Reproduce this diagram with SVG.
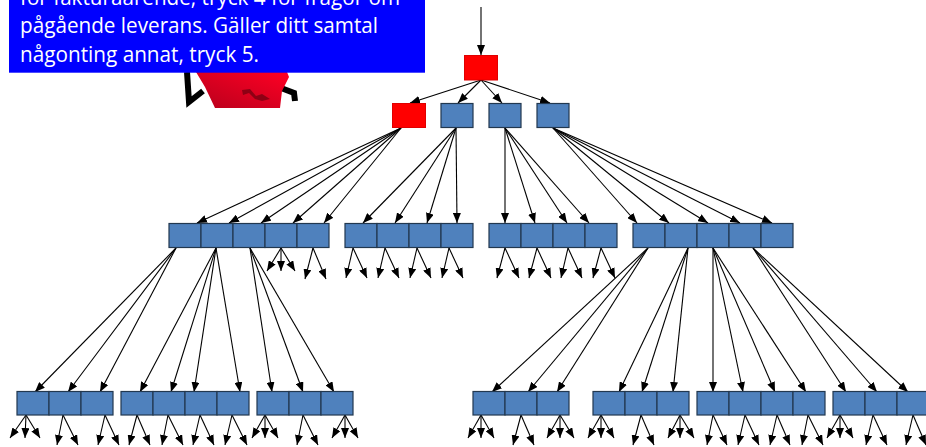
<svg xmlns="http://www.w3.org/2000/svg" width="926" height="447" viewBox="0 0 926 447">
  <style>
    .bx { fill: #4f81bd; stroke: #22384f; stroke-width: 1.2; }
    .rd { fill: #ff0000; stroke: #e00000; stroke-width: 1; }
    .c line { stroke: #000; stroke-width: 1.1; marker-end: url(#ah); }
    .tx { fill: #fff; font-family: "Open Sans", "Noto Sans", sans-serif; font-size: 22px; }
  </style>
  <defs>
    <marker id="ah" markerUnits="userSpaceOnUse" markerWidth="10" markerHeight="8" refX="10" refY="4" orient="auto">
      <path d="M0,0 L10,4 L0,8 z" fill="#000"/>
    </marker>
    <linearGradient id="shirt" x1="0" y1="1" x2="1" y2="0">
      <stop offset="0" stop-color="#b8001c"/>
      <stop offset="1" stop-color="#ff0024"/>
    </linearGradient>
  </defs>
  <rect width="926" height="447" fill="#fff"/>

  <!-- caller figure behind the speech box -->
  <g id="figure">
    <polyline points="187,72 189,102 203,91" fill="none" stroke="#000" stroke-width="6" stroke-linejoin="miter"/>
    <polyline points="281,88 294,93 295,101" fill="none" stroke="#000" stroke-width="6"/>
    <path d="M196,72 L205,87 L215,108 L280,108 L282,91 L289,77 L287,72 Z" fill="url(#shirt)"/>
    <path d="M242,90 L250,89 L256,96 L262,94 L270,99 L262,101 L255,99 L249,93 L243,95 Z" fill="#8e0014"/>
  </g>

  <!-- speech box -->
  <g id="message">
    <rect x="9" y="-10" width="416" height="82.7" fill="#0000ff"/>
    <text class="tx" x="20" y="5" textLength="380" lengthAdjust="spacingAndGlyphs">för fakturaärende, tryck 4 för frågor om</text>
    <text class="tx" x="20" y="33.3" textLength="358" lengthAdjust="spacingAndGlyphs">pågående leverans. Gäller ditt samtal</text>
    <text class="tx" x="20" y="61.7" textLength="239" lengthAdjust="spacingAndGlyphs">någonting annat, tryck 5.</text>
  </g>

  <!-- connectors -->
  <g class="c" id="connectors">
    <line x1="481" y1="7" x2="481" y2="55"/>
    <!-- root to level 1 -->
    <line x1="481" y1="80" x2="410" y2="103"/>
    <line x1="481" y1="80" x2="458" y2="103"/>
    <line x1="481" y1="80" x2="502" y2="103"/>
    <line x1="481" y1="80" x2="550" y2="103"/>
    <!-- level 1 to level 2 -->
    <line x1="401" y1="128" x2="197" y2="223"/>
    <line x1="401" y1="128" x2="229" y2="223"/>
    <line x1="401" y1="128" x2="261" y2="223"/>
    <line x1="401" y1="128" x2="293" y2="223"/>
    <line x1="401" y1="128" x2="324" y2="223"/>
    <line x1="456" y1="128" x2="363" y2="223"/>
    <line x1="456" y1="128" x2="395" y2="223"/>
    <line x1="456" y1="128" x2="427" y2="223"/>
    <line x1="456" y1="128" x2="457" y2="223"/>
    <line x1="505" y1="128" x2="505" y2="223"/>
    <line x1="505" y1="128" x2="535" y2="223"/>
    <line x1="505" y1="128" x2="567" y2="223"/>
    <line x1="505" y1="128" x2="589" y2="223"/>
    <line x1="553" y1="128" x2="637" y2="223"/>
    <line x1="553" y1="128" x2="669" y2="223"/>
    <line x1="553" y1="128" x2="708" y2="223"/>
    <line x1="553" y1="128" x2="740" y2="223"/>
    <line x1="553" y1="128" x2="772" y2="223"/>
    <!-- level 2 to level 3 -->
    <line x1="176" y1="248" x2="35" y2="392"/>
    <line x1="176" y1="248" x2="68" y2="392"/>
    <line x1="176" y1="248" x2="100" y2="392"/>
    <line x1="216" y1="248" x2="140" y2="392"/>
    <line x1="216" y1="248" x2="171" y2="392"/>
    <line x1="216" y1="248" x2="194" y2="392"/>
    <line x1="216" y1="248" x2="240" y2="392"/>
    <line x1="250" y1="248" x2="272" y2="392"/>
    <line x1="250" y1="248" x2="303" y2="392"/>
    <line x1="250" y1="248" x2="334" y2="392"/>
    <line x1="648" y1="248" x2="492" y2="392"/>
    <line x1="648" y1="248" x2="528" y2="392"/>
    <line x1="648" y1="248" x2="557" y2="392"/>
    <line x1="688" y1="248" x2="619" y2="392"/>
    <line x1="688" y1="248" x2="642" y2="392"/>
    <line x1="688" y1="248" x2="673" y2="392"/>
    <line x1="713" y1="248" x2="713" y2="392"/>
    <line x1="713" y1="248" x2="743" y2="392"/>
    <line x1="713" y1="248" x2="775" y2="392"/>
    <line x1="713" y1="248" x2="806" y2="392"/>
    <line x1="753" y1="248" x2="846" y2="392"/>
    <line x1="753" y1="248" x2="877" y2="392"/>
    <line x1="753" y1="248" x2="908" y2="392"/>
    <!-- short stubs under level 2 -->
    <line x1="281" y1="248" x2="267" y2="271"/>
    <line x1="281" y1="248" x2="281" y2="271"/>
    <line x1="281" y1="248" x2="295" y2="271"/>
    <line x1="313" y1="248" x2="305" y2="279"/>
    <line x1="313" y1="248" x2="326" y2="279"/>
    <line x1="353" y1="248" x2="346" y2="278"/>
    <line x1="353" y1="248" x2="367" y2="278"/>
    <line x1="385" y1="248" x2="378" y2="278"/>
    <line x1="385" y1="248" x2="399" y2="278"/>
    <line x1="417" y1="248" x2="410" y2="278"/>
    <line x1="417" y1="248" x2="431" y2="278"/>
    <line x1="449" y1="248" x2="442" y2="278"/>
    <line x1="449" y1="248" x2="463" y2="278"/>
    <line x1="505" y1="248" x2="497" y2="278"/>
    <line x1="505" y1="248" x2="519" y2="278"/>
    <line x1="537" y1="248" x2="529" y2="278"/>
    <line x1="537" y1="248" x2="551" y2="278"/>
    <line x1="568" y1="248" x2="561" y2="278"/>
    <line x1="568" y1="248" x2="582" y2="278"/>
    <line x1="601" y1="248" x2="593" y2="278"/>
    <line x1="601" y1="248" x2="615" y2="278"/>
    <!-- short stubs under level 3 -->
    <line x1="26" y1="415" x2="10" y2="438"/>
    <line x1="26" y1="415" x2="25" y2="438"/>
    <line x1="26" y1="415" x2="40" y2="438"/>
    <line x1="63" y1="415" x2="57" y2="445"/>
    <line x1="63" y1="415" x2="78" y2="445"/>
    <line x1="105" y1="415" x2="98" y2="445"/>
    <line x1="105" y1="415" x2="119" y2="445"/>
    <line x1="137" y1="415" x2="129" y2="445"/>
    <line x1="137" y1="415" x2="150" y2="445"/>
    <line x1="168" y1="415" x2="162" y2="445"/>
    <line x1="168" y1="415" x2="183" y2="445"/>
    <line x1="200" y1="415" x2="193" y2="445"/>
    <line x1="200" y1="415" x2="214" y2="445"/>
    <line x1="232" y1="415" x2="225" y2="445"/>
    <line x1="232" y1="415" x2="247" y2="445"/>
    <line x1="265" y1="415" x2="252" y2="438"/>
    <line x1="265" y1="415" x2="265" y2="438"/>
    <line x1="265" y1="415" x2="278" y2="438"/>
    <line x1="303" y1="415" x2="297" y2="445"/>
    <line x1="303" y1="415" x2="318" y2="445"/>
    <line x1="345" y1="415" x2="332" y2="438"/>
    <line x1="345" y1="415" x2="345" y2="438"/>
    <line x1="345" y1="415" x2="358" y2="438"/>
    <line x1="481" y1="415" x2="468" y2="438"/>
    <line x1="481" y1="415" x2="481" y2="438"/>
    <line x1="481" y1="415" x2="494" y2="438"/>
    <line x1="521" y1="415" x2="513" y2="445"/>
    <line x1="521" y1="415" x2="534" y2="445"/>
    <line x1="560" y1="415" x2="547" y2="438"/>
    <line x1="560" y1="415" x2="560" y2="438"/>
    <line x1="560" y1="415" x2="574" y2="438"/>
    <line x1="601" y1="415" x2="588" y2="438"/>
    <line x1="601" y1="415" x2="601" y2="438"/>
    <line x1="601" y1="415" x2="614" y2="438"/>
    <line x1="641" y1="415" x2="633" y2="445"/>
    <line x1="641" y1="415" x2="654" y2="445"/>
    <line x1="680" y1="415" x2="668" y2="438"/>
    <line x1="680" y1="415" x2="680" y2="438"/>
    <line x1="680" y1="415" x2="694" y2="438"/>
    <line x1="713" y1="415" x2="707" y2="445"/>
    <line x1="713" y1="415" x2="727" y2="445"/>
    <line x1="745" y1="415" x2="738" y2="445"/>
    <line x1="745" y1="415" x2="759" y2="445"/>
    <line x1="777" y1="415" x2="770" y2="445"/>
    <line x1="777" y1="415" x2="790" y2="445"/>
    <line x1="808" y1="415" x2="802" y2="445"/>
    <line x1="808" y1="415" x2="823" y2="445"/>
    <line x1="840" y1="415" x2="827" y2="438"/>
    <line x1="840" y1="415" x2="840" y2="438"/>
    <line x1="840" y1="415" x2="853" y2="438"/>
    <line x1="873" y1="415" x2="866" y2="445"/>
    <line x1="873" y1="415" x2="887" y2="445"/>
    <line x1="913" y1="415" x2="906" y2="445"/>
    <line x1="913" y1="415" x2="926" y2="445"/>
  </g>

  <!-- level 0 -->
  <g id="root"><rect class="rd" x="464.5" y="55.5" width="33" height="24.5"/></g>

  <!-- level 1 -->
  <g id="n1a"><rect class="rd" x="392.5" y="103.5" width="33" height="24"/></g>
  <g id="n1b"><rect class="bx" x="441" y="103.5" width="32" height="24"/></g>
  <g id="n1c"><rect class="bx" x="489" y="103.5" width="32" height="24"/></g>
  <g id="n1d"><rect class="bx" x="537" y="103.5" width="32" height="24"/></g>

  <!-- level 2 -->
  <g id="n2a1"><rect class="bx" x="169" y="223.5" width="32" height="24"/></g>
  <g id="n2a2"><rect class="bx" x="201" y="223.5" width="32" height="24"/></g>
  <g id="n2a3"><rect class="bx" x="233" y="223.5" width="32" height="24"/></g>
  <g id="n2a4"><rect class="bx" x="265" y="223.5" width="32" height="24"/></g>
  <g id="n2a5"><rect class="bx" x="297" y="223.5" width="32" height="24"/></g>
  <g id="n2b1"><rect class="bx" x="345" y="223.5" width="32" height="24"/></g>
  <g id="n2b2"><rect class="bx" x="377" y="223.5" width="32" height="24"/></g>
  <g id="n2b3"><rect class="bx" x="409" y="223.5" width="32" height="24"/></g>
  <g id="n2b4"><rect class="bx" x="441" y="223.5" width="32" height="24"/></g>
  <g id="n2c1"><rect class="bx" x="489" y="223.5" width="32" height="24"/></g>
  <g id="n2c2"><rect class="bx" x="521" y="223.5" width="32" height="24"/></g>
  <g id="n2c3"><rect class="bx" x="553" y="223.5" width="32" height="24"/></g>
  <g id="n2c4"><rect class="bx" x="585" y="223.5" width="32" height="24"/></g>
  <g id="n2d1"><rect class="bx" x="633" y="223.5" width="32" height="24"/></g>
  <g id="n2d2"><rect class="bx" x="665" y="223.5" width="32" height="24"/></g>
  <g id="n2d3"><rect class="bx" x="697" y="223.5" width="32" height="24"/></g>
  <g id="n2d4"><rect class="bx" x="729" y="223.5" width="32" height="24"/></g>
  <g id="n2d5"><rect class="bx" x="761" y="223.5" width="32" height="24"/></g>

  <!-- level 3 -->
  <g id="n3e1"><rect class="bx" x="17" y="391.5" width="32" height="23.5"/></g>
  <g id="n3e2"><rect class="bx" x="49" y="391.5" width="32" height="23.5"/></g>
  <g id="n3e3"><rect class="bx" x="81" y="391.5" width="32" height="23.5"/></g>
  <g id="n3f1"><rect class="bx" x="121" y="391.5" width="32" height="23.5"/></g>
  <g id="n3f2"><rect class="bx" x="153" y="391.5" width="32" height="23.5"/></g>
  <g id="n3f3"><rect class="bx" x="185" y="391.5" width="32" height="23.5"/></g>
  <g id="n3f4"><rect class="bx" x="217" y="391.5" width="32" height="23.5"/></g>
  <g id="n3g1"><rect class="bx" x="257" y="391.5" width="32" height="23.5"/></g>
  <g id="n3g2"><rect class="bx" x="289" y="391.5" width="32" height="23.5"/></g>
  <g id="n3g3"><rect class="bx" x="321" y="391.5" width="32" height="23.5"/></g>
  <g id="n3h1"><rect class="bx" x="473" y="391.5" width="32" height="23.5"/></g>
  <g id="n3h2"><rect class="bx" x="505" y="391.5" width="32" height="23.5"/></g>
  <g id="n3h3"><rect class="bx" x="537" y="391.5" width="32" height="23.5"/></g>
  <g id="n3i1"><rect class="bx" x="593" y="391.5" width="32" height="23.5"/></g>
  <g id="n3i2"><rect class="bx" x="625" y="391.5" width="32" height="23.5"/></g>
  <g id="n3i3"><rect class="bx" x="657" y="391.5" width="32" height="23.5"/></g>
  <g id="n3j1"><rect class="bx" x="697" y="391.5" width="32" height="23.5"/></g>
  <g id="n3j2"><rect class="bx" x="729" y="391.5" width="32" height="23.5"/></g>
  <g id="n3j3"><rect class="bx" x="761" y="391.5" width="32" height="23.5"/></g>
  <g id="n3j4"><rect class="bx" x="793" y="391.5" width="32" height="23.5"/></g>
  <g id="n3k1"><rect class="bx" x="833" y="391.5" width="32" height="23.5"/></g>
  <g id="n3k2"><rect class="bx" x="865" y="391.5" width="32" height="23.5"/></g>
  <g id="n3k3"><rect class="bx" x="897" y="391.5" width="32" height="23.5"/></g>
</svg>
